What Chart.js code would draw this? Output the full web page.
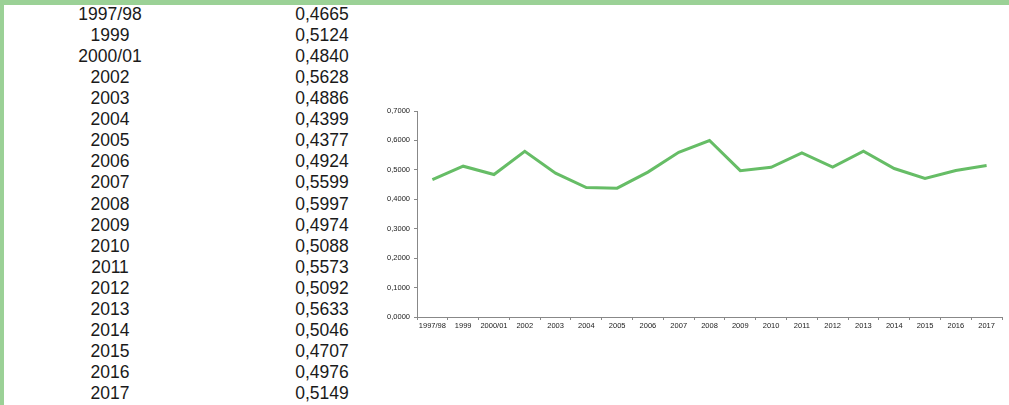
<!DOCTYPE html>
<html>
<head>
<meta charset="utf-8">
<script src="https://cdn.jsdelivr.net/npm/chart.js@4"></script>
<style>
  html, body { margin: 0; padding: 0; background: #fff; }
  body { width: 1009px; height: 405px; position: relative; overflow: hidden; font-family: "Liberation Sans", Arial, sans-serif; }
  .topbar { position: absolute; left: 0; top: 0; width: 1009px; height: 5px; background: #9bd196; }
  .leftbar { position: absolute; left: 0; top: 0; width: 4px; height: 405px; background: #9bd196; }
  #tbl { position: absolute; left: 0; top: 4px; }
  .row { position: absolute; height: 21px; line-height: 21px; font-size: 17.5px; color: #1a1a1a; }
  .yr { left: 50px; width: 120px; text-align: center; }
  .val { left: 262px; width: 120px; text-align: center; }
  #wrap { position: absolute; left: 370px; top: 100px; width: 639px; height: 230px; }
</style>
</head>
<body>
<div class="topbar"></div>
<div class="leftbar"></div>
<div id="tbl"></div>
<div id="wrap"><canvas id="giniChart"></canvas></div>
<script>
const years = ['1997/98', '1999', '2000/01', '2002', '2003', '2004', '2005', '2006', '2007', '2008',
  '2009', '2010', '2011', '2012', '2013', '2014', '2015', '2016', '2017'];
const values = [0.4665, 0.5124, 0.4840, 0.5628, 0.4886, 0.4399, 0.4377, 0.4924, 0.5599, 0.5997,
  0.4974, 0.5088, 0.5573, 0.5092, 0.5633, 0.5046, 0.4707, 0.4976, 0.5149];

function fmt(v) {
  return v.toFixed(4).replace('.', ',');
}

// table on the left
const tbl = document.getElementById('tbl');
years.forEach((y, i) => {
  const a = document.createElement('div');
  a.className = 'row yr';
  a.style.top = (i * 21.06) + 'px';
  a.textContent = y;
  const b = document.createElement('div');
  b.className = 'row val';
  b.style.top = (i * 21.06) + 'px';
  b.textContent = fmt(values[i]);
  tbl.appendChild(a);
  tbl.appendChild(b);
});

const ctx = document.getElementById('giniChart').getContext('2d');
new Chart(ctx, {
  type: 'line',
  data: {
    labels: years,
    datasets: [{
      data: values,
      borderColor: '#66bd66',
      borderWidth: 3,
      pointRadius: 0,
      tension: 0,
      fill: false,
    }],
  },
  options: {
    responsive: true,
    maintainAspectRatio: false,
    animation: false,
    layout: { padding: { top: 11, right: 7, left: 0, bottom: 0 } },
    plugins: { legend: { display: false }, tooltip: { enabled: false } },
    scales: {
      x: {
        offset: true,
        grid: { display: true, offset: true, drawOnChartArea: false, tickLength: 3, color: '#888' },
        border: { color: '#888', width: 1 },
        ticks: { color: '#1a1a1a', font: { size: 7.5, family: 'Liberation Sans' }, padding: 1, maxRotation: 0, autoSkip: false },
        afterFit: (s) => { s.height = 13; },
      },
      y: {
        min: 0,
        max: 0.7,
        grid: { display: true, drawOnChartArea: false, tickLength: 3, color: '#888' },
        border: { color: '#888', width: 1 },
        ticks: { stepSize: 0.1, color: '#1a1a1a', font: { size: 7.5, family: 'Liberation Sans' }, padding: 4,
          callback: (v) => fmt(v) },
        afterFit: (s) => { s.width = 47; },
      },
    },
  },
});
</script>
</body>
</html>
